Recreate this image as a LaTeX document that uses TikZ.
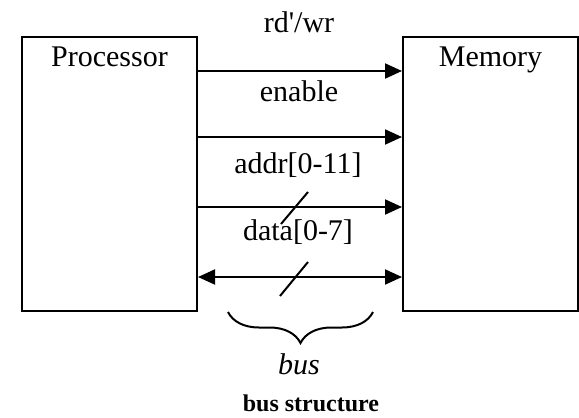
\documentclass[tikz,border=0pt]{standalone}
\usepackage{fontspec}
\setmainfont{Liberation Serif}
\usetikzlibrary{arrows.meta,decorations.pathreplacing}

\tikzstyle{unit}=[rectangle,draw,line width=1pt,minimum width=87.5pt,minimum height=137pt,inner sep=0pt]
\tikzstyle{sig}=[anchor=base,inner sep=0pt,font=\fontsize{15}{18}\selectfont]

\begin{document}
\begin{tikzpicture}[x=0.5pt,y=-0.5pt,line width=1pt,>={Triangle[length=8.5pt,width=7.5pt]}]
	\useasboundingbox (0,0) rectangle (579,418);

	\node (P) at (109.5,174) [unit] {};
	\node (M) at (490.5,174) [unit] {};
	\node (Ptext) at (109.5,66) [sig] {Processor};
	\node (Mtext) at (490.5,66) [sig] {Memory};

		\coordinate (s1) at (0,71);
		\coordinate (s2) at (0,137);
		\coordinate (s3) at (0,207);
		\coordinate (s4) at (0,277);

		\node (rw) at (299,32) [sig] {rd\textquotesingle/wr};
		\node (en) at (299,101) [sig] {enable};
		\node (addr) at (298,173) [sig] {addr[0-11]};
		\node (data) at (298,240) [sig] {data[0-7]};

	\draw [->] (P.east |- s1) to (M.west |- s1);
	\draw [->] (P.east |- s2) to (M.west |- s2);
	\draw [->] (P.east |- s3) to (M.west |- s3);
	\draw [<->] (P.east |- s4) to (M.west |- s4);

	\draw (281,224) -- (308,192);
	\draw (280,296) -- (308,262);

	\draw [decorate,decoration={brace,mirror,amplitude=15.5pt}] (228,312) -- (373,312);

	\node (bus) at (299,374) [sig] {\textit{bus}};
	\node (title) at (311,411) [sig,font=\fontsize{12}{14}\selectfont\bfseries] {bus structure};

\end{tikzpicture}
\end{document}
